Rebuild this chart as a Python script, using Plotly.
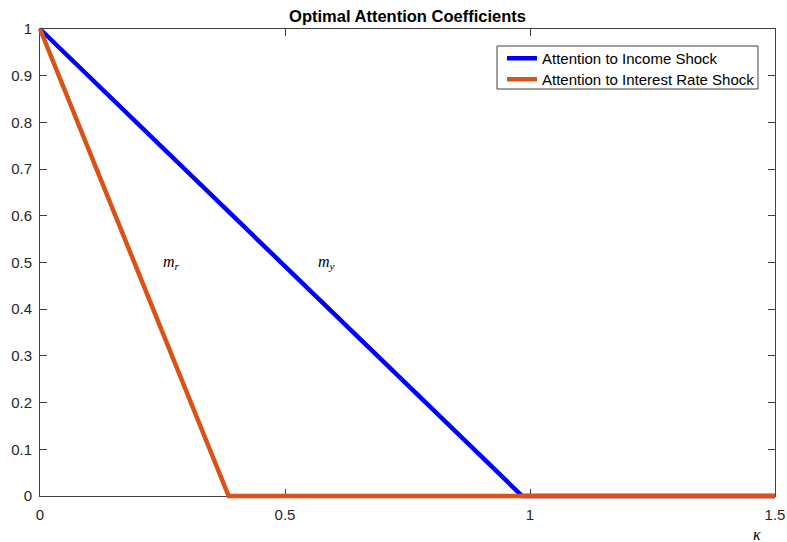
import plotly.graph_objects as go

# Optimal attention coefficients as a function of the attention cost kappa
kappa_y = [0.0, 0.984, 1.5]
m_y = [1.0, 0.0, 0.0]

kappa_r = [0.0, 0.385, 1.5]
m_r = [1.0, 0.0, 0.0]

x_ticks = [0, 0.5, 1, 1.5]
x_tick_text = ["0", "0.5", "1", "1.5"]
y_ticks = [0, 0.1, 0.2, 0.3, 0.4, 0.5, 0.6, 0.7, 0.8, 0.9, 1]
y_tick_text = ["0", "0.1", "0.2", "0.3", "0.4", "0.5", "0.6", "0.7", "0.8", "0.9", "1"]

series_names = ["Attention to Income Shock", "Attention to Interest Rate Shock"]
series_colors = ["#0000FF", "#D95319"]

X_RANGE = [0.0, 1.5]
Y_RANGE = [0.0, 1.0]

# Figure geometry (pixels)
W, H = 787, 542
AX_L, AX_R, AX_T, AX_B = 40, 775, 29, 496   # axes box
PAD = 8                                     # room so thick lines are not clipped at the edges
LEG_L, LEG_R, LEG_T, LEG_B = 497, 758, 46, 89
LEG_ROWS = [58, 79]                         # vertical centre of each legend entry
ROW_OFFSET = 16                             # legend top to first entry centre

ml, mr, mt, mb = AX_L - PAD, W - (AX_R + PAD), AX_T - PAD, H - (AX_B + PAD)
pw, ph = W - ml - mr, H - mt - mb
x_unit = (AX_R - AX_L) / (X_RANGE[1] - X_RANGE[0])
y_unit = (AX_B - AX_T) / (Y_RANGE[1] - Y_RANGE[0])


def px_x(px):
    return (px - ml) / pw


def px_y(py):
    return 1 - (py - mt) / ph


font_family = "Liberation Sans, Arial, Helvetica, sans-serif"
axis_color = "#404040"
text_color = "#262626"

fig = go.Figure()

# Curves live on an overlay subplot whose range is padded by exactly PAD pixels
legend_ids = ["legend", "legend2"]
for xs, ys, name, color, leg in zip([kappa_y, kappa_r], [m_y, m_r], series_names,
                                    series_colors, legend_ids):
    fig.add_trace(go.Scatter(x=xs, y=ys, mode="lines", name=name,
                             line=dict(color=color, width=4.5),
                             xaxis="x2", yaxis="y2", legend=leg))

axis_common = dict(showgrid=False, zeroline=False, showline=True, linecolor=axis_color,
                   linewidth=1, mirror="ticks", ticks="inside", ticklen=7,
                   tickcolor=axis_color, tickwidth=1,
                   tickfont=dict(family=font_family, size=15, color=text_color))

legend_style = dict(xanchor="left", yanchor="top", bgcolor="rgba(0,0,0,0)", borderwidth=0,
                    font=dict(family=font_family, size=15, color="black"))

fig.update_layout(
    width=W, height=H,
    margin=dict(l=ml, r=mr, t=mt, b=mb, pad=0, autoexpand=False),
    paper_bgcolor="white",
    plot_bgcolor="rgba(0,0,0,0)",
    showlegend=True,
    title=dict(text="<b>Optimal Attention Coefficients</b>",
               x=(AX_L + AX_R) / 2 / W, xanchor="center",
               y=1 - 16 / H, yanchor="middle",
               font=dict(family=font_family, size=16.5, color="black")),
    xaxis=dict(domain=[PAD / pw, 1 - PAD / pw], range=X_RANGE,
               tickvals=x_ticks, ticktext=x_tick_text, ticklabelstandoff=5,
               **axis_common),
    yaxis=dict(domain=[PAD / ph, 1 - PAD / ph], range=Y_RANGE,
               tickvals=y_ticks, ticktext=y_tick_text, ticklabelstandoff=4,
               **axis_common),
    xaxis2=dict(domain=[0, 1], anchor="y2",
                range=[X_RANGE[0] - PAD / x_unit, X_RANGE[1] + PAD / x_unit],
                visible=False),
    yaxis2=dict(domain=[0, 1], anchor="x2",
                range=[Y_RANGE[0] - PAD / y_unit, Y_RANGE[1] + PAD / y_unit],
                visible=False),
    legend=dict(x=px_x(LEG_L + 5), y=px_y(LEG_ROWS[0] - ROW_OFFSET), **legend_style),
    legend2=dict(x=px_x(LEG_L + 5), y=px_y(LEG_ROWS[1] - ROW_OFFSET), **legend_style),
)

# Legend frame
fig.add_shape(type="rect", xref="paper", yref="paper",
              x0=px_x(LEG_L), x1=px_x(LEG_R), y0=px_y(LEG_B), y1=px_y(LEG_T),
              line=dict(color=axis_color, width=1), fillcolor="white", layer="below")

# Curve labels and the kappa axis label
label_font = dict(family="Liberation Serif, Times New Roman, serif", size=16, color="black")
fig.add_annotation(x=0.269, y=0.5, xref="x", yref="y", showarrow=False,
                   text="<i>m</i><sub><i>r</i></sub>", font=label_font)
fig.add_annotation(x=0.585, y=0.5, xref="x", yref="y", showarrow=False,
                   text="<i>m</i><sub><i>y</i></sub>", font=label_font)
fig.add_annotation(x=px_x(757), y=px_y(534), xref="paper", yref="paper", showarrow=False,
                   text="<i>κ</i>", font=label_font, xanchor="center", yanchor="middle")

fig.write_html("out.html")
